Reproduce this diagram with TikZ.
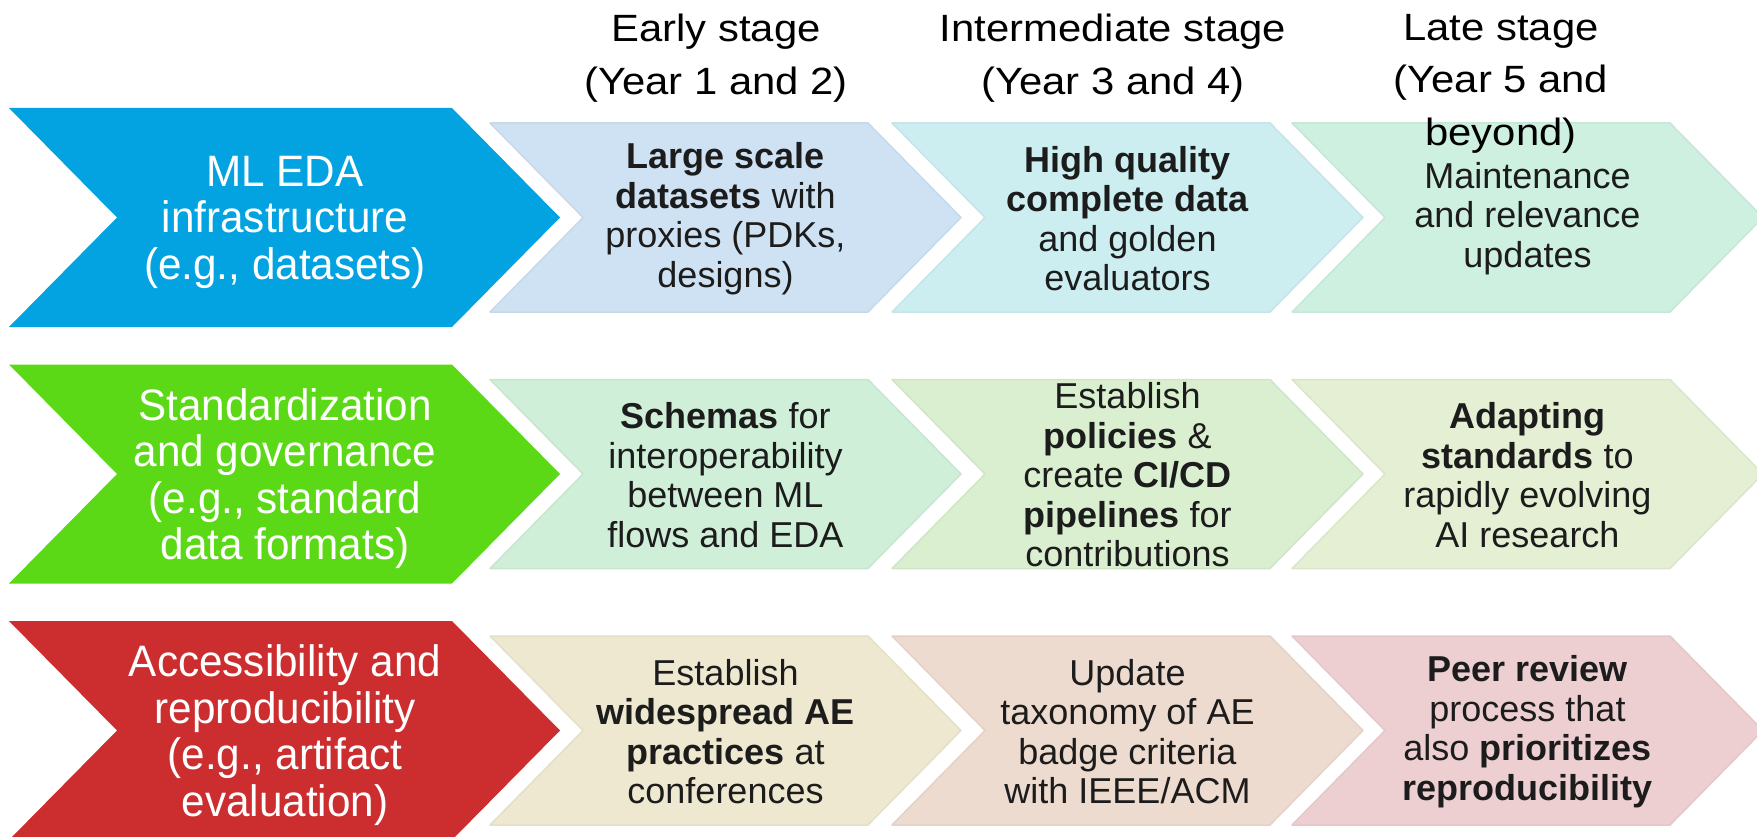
\documentclass[tikz,border=0pt]{standalone}
\usepackage{fontspec}
\setmainfont{Liberation Sans}
\newfontfamily\condf[FakeStretch=0.96]{Liberation Sans}
\newfontfamily\widef[FakeStretch=1.1]{Liberation Sans}
\definecolor{bigblue}{HTML}{02A3E0}
\definecolor{biggreen}{HTML}{5CD916}
\definecolor{bigred}{HTML}{CC2D2E}
\definecolor{ca1}{HTML}{CFE2F3}
\definecolor{ca2}{HTML}{CDEEF0}
\definecolor{ca3}{HTML}{CEF0E1}
\definecolor{cb1}{HTML}{D0EFD8}
\definecolor{cb2}{HTML}{D9EFCF}
\definecolor{cb3}{HTML}{E4EFD3}
\definecolor{cc1}{HTML}{EEE8D0}
\definecolor{cc2}{HTML}{EEDBCF}
\definecolor{cc3}{HTML}{EDCFD2}
\definecolor{bodytext}{HTML}{1C1C1C}
\newcommand\chevshape[6]{% left x, centre y, width, height, depth, style
  \path[#6] (#1,{#2-#4/2}) -- ({#1+#3-#5},{#2-#4/2}) -- ({#1+#3},#2)
    -- ({#1+#3-#5},{#2+#4/2}) -- (#1,{#2+#4/2}) -- ({#1+#5},#2) -- cycle;}
\tikzset{
  bigchev/.style={fill=#1},
  smallchev/.style={fill=#1, draw=#1!96!black, line width=1.5pt, line join=round},
  headtext/.style={font=\widef\fontsize{38}{52.5}\selectfont, align=center, inner sep=0pt, anchor=north, text=black},
  bigtext/.style={font=\condf\fontsize{44}{46.5}\selectfont, align=center, inner sep=0pt, text=white},
  bodytxt/.style={font=\fontsize{36}{39.5}\selectfont, align=center, inner sep=0pt, text=bodytext},
}
\begin{document}
\begin{tikzpicture}[x=1pt,y=-1pt]
\useasboundingbox (0,0) rectangle (1757,837);
\clip (0,0) rectangle (1757,837);
% big chevrons
\chevshape{9}{217.5}{551}{219}{108}{bigchev=bigblue}
\chevshape{9}{474}{551}{219}{108}{bigchev=biggreen}
\chevshape{9}{730.5}{551}{219}{108}{bigchev=bigred}
% small chevrons
\chevshape{490}{217.5}{471}{189}{93}{smallchev=ca1}
\chevshape{892}{217.5}{471}{189}{93}{smallchev=ca2}
\chevshape{1292}{217.5}{471}{189}{93}{smallchev=ca3}
\chevshape{490}{474}{471}{189}{93}{smallchev=cb1}
\chevshape{892}{474}{471}{189}{93}{smallchev=cb2}
\chevshape{1292}{474}{471}{189}{93}{smallchev=cb3}
\chevshape{490}{730.5}{471}{189}{93}{smallchev=cc1}
\chevshape{892}{730.5}{471}{189}{93}{smallchev=cc2}
\chevshape{1292}{730.5}{471}{189}{93}{smallchev=cc3}
% headers
\node[headtext] (h1) at (716,14) {Early stage\\(Year 1 and 2)};
\node[headtext] (h2) at (1113,14) {Intermediate stage\\(Year 3 and 4)};
\node[headtext] (h3) at (1501,14) {Late stage\\(Year 5 and\\beyond)};
% big texts
\node[bigtext] (b1) at (285,222) {ML EDA\\infrastructure\\(e.g., datasets)};
\node[bigtext] (b2) at (285,478.5) {Standardization\\and governance\\(e.g., standard\\data formats)};
\node[bigtext] (b3) at (285,735) {Accessibility and\\reproducibility\\(e.g., artifact\\evaluation)};
% row 1
\node[bodytxt] (a1) at (725.5,218.5) {\textbf{Large scale}\\\textbf{datasets} with\\proxies (PDKs,\\designs)};
\node[bodytxt] (a2) at (1127.5,218.5) {\textbf{High quality}\\\textbf{complete data}\\and golden\\evaluators};
\node[bodytxt] (a3) at (1527.5,218.5) {Maintenance\\and relevance\\updates};
% row 2
\node[bodytxt] (m1) at (725.5,475) {\textbf{Schemas} for\\interoperability\\between ML\\flows and EDA};
\node[bodytxt] (m2) at (1127.5,475) {Establish\\\textbf{policies} \&\\create \textbf{CI/CD}\\\textbf{pipelines} for\\contributions};
\node[bodytxt] (m3) at (1527.5,475) {\textbf{Adapting}\\\textbf{standards} to\\rapidly evolving\\AI research};
% row 3
\node[bodytxt] (r1) at (725.5,731.5) {Establish\\\textbf{widespread AE}\\\textbf{practices} at\\conferences};
\node[bodytxt] (r2) at (1127.5,731.5) {Update\\taxonomy of AE\\badge criteria\\with IEEE/ACM};
\node[bodytxt] (r3) at (1527.5,731.5) {\textbf{Peer review}\\process that\\also \textbf{prioritizes}\\\textbf{reproducibility}};
\end{tikzpicture}
\end{document}
